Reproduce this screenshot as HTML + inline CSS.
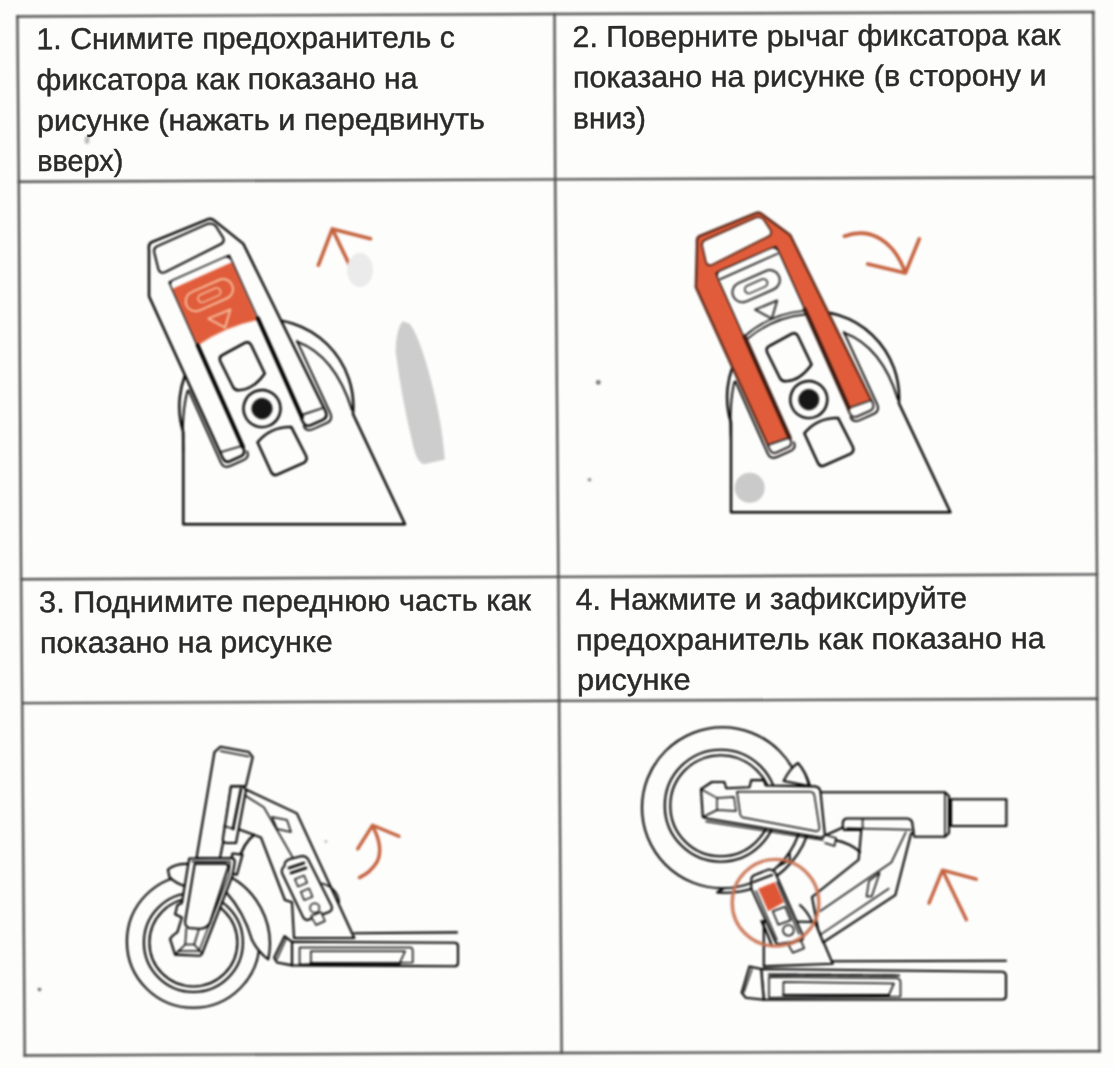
<!DOCTYPE html>
<html><head><meta charset="utf-8">
<style>
html,body{margin:0;padding:0;background:#fdfdfc;}
body{width:1114px;height:1068px;overflow:hidden;position:relative;}
svg{position:absolute;left:0;top:0;}
.bl{filter:blur(0.8px);}
.t{font-family:"Liberation Sans",sans-serif;font-size:30px;fill:#2a2a2a;stroke:#2a2a2a;stroke-width:0.45px;}
</style></head><body>
<svg class="bl" width="1114" height="1068" viewBox="0 0 1114 1068">
<g stroke="#505050" stroke-width="2.4" fill="none" stroke-linecap="square">
<polyline points="17.4,16.5 554.5,14 1093.3,12"/>
<polyline points="18.8,181.7 555.2,179.4 1094.2,177.2"/>
<polyline points="21.1,579.2 558.4,576.9 1097,574.4"/>
<polyline points="22.2,703.1 559.1,700.9 1097.3,698.7"/>
<polyline points="24.7,1055.5 561.65,1053 1099.5,1051.3"/>
<polyline points="17.4,16.5 18.8,181.7 21.1,579.2 22.2,703.1 24.7,1055.5"/>
<polyline points="554.5,14 555.2,179.4 558.4,576.9 559.1,700.9 561.65,1053"/>
<polyline points="1093.3,12 1094.2,177.2 1097,574.4 1097.3,698.7 1099.5,1051.3"/>
</g>
<g stroke="#000000" stroke-width="2.4" fill="#fdfdfc" stroke-linejoin="round" stroke-linecap="round">
<path d="M183.3,524.2 L183.3,432.4 A87,87 0 1,1 353.0,414.0 L405.0,524.2 Z"/>
<path d="M297,341.6 Q335,355.6 352.0,410.0" fill="none" stroke-width="2"/>
<path d="M183.3,450.6 Q181.3,413.6 187.5,391.1" fill="none" stroke-width="1.9"/>
<g transform="translate(262,408.6) rotate(-24)">
<path d="M-38.7,-191 Q-37,-197 -33,-197 L28,-195 Q31,-195 33,-191 L50,-158 L57,28 Q57,35 51,35 L38,35 Q32,35 32,28 L32,-153 L-33,-153 L-33,28 Q-33,35 -39,35 L-51,35 Q-56,35 -56,28 L-57.5,-148.6 Z"/>
<path d="M-55,23 L-33,26 M34,22 L55,24" fill="none" stroke-width="1.6"/>
<path d="M-30,-191 L24,-191 Q30,-191 32,-186 L34,-172.0 Q34,-167.0 29,-167.0 L-33,-164.0 Q-38,-164.0 -38,-169.0 L-35,-186 Q-34,-191 -30,-191 Z" stroke-width="2"/>
<path d="M-59.7,-46.7 L-59.5,32 Q-59.5,39.5 -52,39.5 L-38,39.5 Q-31,39.5 -31,33 M59.5,-47.5 L60.5,32 Q60.5,39.5 53,39.5 L38,39.5 Q31,39.5 31,33" fill="none" stroke-width="1.8"/>
<path d="M-33,-148 Q-33,-153 -28,-153 L26,-153 Q31,-153 32,-148 L33,24 M-33,26 L-33,-148" />
<path d="M-33,-148 Q-33,-153 -28,-153 L26,-153 Q31,-153 32,-148 L33,24 L-33,26 Z" stroke="none"/>
<path d="M-33,-146 L32,-146 L32,-83 Q0,-90 -33,-84 Z" fill="#e05c3b" stroke="none"/>
<path d="M-33,-84 Q0,-90 32,-83" fill="none" stroke="#e7a084" stroke-width="1.2"/>
<rect x="-27" y="-135" width="50" height="20" rx="10" fill="none" stroke="#f5bd9c" stroke-width="2"/>
<rect x="-14" y="-129" width="24" height="8" rx="4" fill="none" stroke="#f5bd9c" stroke-width="1.6"/>
<path d="M-12.5,-104 L11.4,-103.4 L-0.8,-89 Z" fill="none" stroke="#f5bd9c" stroke-width="2"/>
<path d="M-33,-84 L-33,27 M33,-84 L33,24" stroke-width="4" stroke="#000000" fill="none"/>
<path d="M-18.8,-60 Q-18.8,-65 -14,-65 L11,-67 Q15.7,-67 16,-62 L16.8,-31 Q0,-21 -13,-26 Q-17.7,-27 -17.7,-32 Z"/>
<circle cx="0" cy="0" r="18.5"/>
<circle cx="0" cy="0" r="10.5" fill="#161616" stroke="none"/>
<path d="M-17.8,29 Q0,20 19.3,28.6 L21,61 Q21,66 16,66.5 L-13,66.5 Q-17.4,66.5 -17.4,61 Z"/>
</g>
</g>
<path d="M318.4,265.2 L332.3,228.9 L370.5,238.7 M332.3,228.9 L358.8,284.5" fill="none" stroke="#c4623e" stroke-width="3.6" stroke-linecap="round" stroke-linejoin="round"/>
<path d="M402.6,321.3 Q396,330 395.6,351.8 Q402,400 412,440.8 Q416,462 423.7,464.2 L444.8,459.5 Q442,420 428.4,370.5 Q418,334 409.6,323.7 Z" fill="#cdcdcd" stroke="none"/>
<ellipse cx="360" cy="270" rx="13" ry="17" fill="#ebebeb" stroke="none"/>
<g stroke="#000000" stroke-width="2.4" fill="#fdfdfc" stroke-linejoin="round" stroke-linecap="round">
<path d="M731.0,512.3 L731.0,422.9 A86,86 0 1,1 898.9,403.2 L950.4,512.3 Z"/>
<path d="M843.8,332.6 Q881.8,346.6 897.9,399.2" fill="none" stroke-width="2"/>
<path d="M731.0,441.6 Q729.0,404.6 734.3,382.1" fill="none" stroke-width="1.9"/>
<g transform="translate(808.8,399.6) rotate(-24)">
<path d="M-38.7,-188 Q-37,-194 -33,-194 L28,-192 Q31,-192 33,-188 L50,-158 L57,28 Q57,35 51,35 L38,35 Q32,35 32,28 L32,-153 L-33,-153 L-33,28 Q-33,35 -39,35 L-51,35 Q-56,35 -56,28 L-57.5,-148.6 Z" fill="#e05c3b" stroke="#5a2a1a"/>
<path d="M-56,25 L-33,27 L-33,29 Q-33,35 -39,35 L-51,35 Q-56,35 -56,29 Z M32,24 L56.8,26 L57,29 Q57,35 51,35 L38,35 Q32,35 32,29 Z" fill="#fdfdfc" stroke="#2a2a2a" stroke-width="1.8"/>
<path d="M-30,-188 L24,-188 Q30,-188 32,-183 L34,-170.5 Q34,-165.5 29,-165.5 L-33,-162.5 Q-38,-162.5 -38,-167.5 L-35,-183 Q-34,-188 -30,-188 Z" fill="#fdfdfc" stroke="#5a2a1a" stroke-width="1.8"/>
<path d="M-59.7,-46.7 L-59.5,32 Q-59.5,39.5 -52,39.5 L-38,39.5 Q-31,39.5 -31,33 M59.5,-47.5 L60.5,32 Q60.5,39.5 53,39.5 L38,39.5 Q31,39.5 31,33" fill="none" stroke-width="1.8"/>
<path d="M-33,-148 Q-33,-153 -28,-153 L26,-153 Q31,-153 32,-148 L33,24 M-33,26 L-33,-148" />
<path d="M-33,-148 Q-33,-153 -28,-153 L26,-153 Q31,-153 32,-148 L33,24 L-33,26 Z" stroke="none"/>
<path d="M-33,-148 Q-33,-153 -28,-153 L26,-153 Q31,-153 32,-148 L32,-83 L-33,-84 Z" fill="#fdfdfc" stroke="none"/>
<path d="M-32,-146 L31,-146" stroke-width="1.6" fill="none"/>
<path d="M-33,-84 Q0,-94 32,-83 M-33,-80 Q0,-90 32,-79" fill="none" stroke-width="1.6"/>
<rect x="-27" y="-135" width="50" height="20" rx="10" fill="none" stroke="#2a2a2a" stroke-width="2"/>
<rect x="-14" y="-129" width="24" height="8" rx="4" fill="none" stroke="#2a2a2a" stroke-width="1.6"/>
<path d="M-12.5,-104 L11.4,-103.4 L-0.8,-89 Z" fill="none" stroke="#2a2a2a" stroke-width="2"/>
<path d="M-33,-84 L-33,27 M33,-84 L33,24" stroke-width="4" stroke="#3a1a10" fill="none"/>
<path d="M-18.8,-60 Q-18.8,-65 -14,-65 L11,-67 Q15.7,-67 16,-62 L16.8,-31 Q0,-21 -13,-26 Q-17.7,-27 -17.7,-32 Z"/>
<circle cx="0" cy="0" r="18.5"/>
<circle cx="0" cy="0" r="10.5" fill="#161616" stroke="none"/>
<path d="M-17.8,29 Q0,20 19.3,28.6 L21,61 Q21,66 16,66.5 L-13,66.5 Q-17.4,66.5 -17.4,61 Z"/>
</g>
</g>
<path d="M844.4,236.2 Q872,226 892.8,249.6 Q901,260 905.4,273 M867.7,264 L905.4,273 L919.3,238.9" fill="none" stroke="#c4623e" stroke-width="3.6" stroke-linecap="round" stroke-linejoin="round"/>
<circle cx="749.7" cy="487.8" r="15" fill="#bdbdbd" opacity="0.8"/>
<g stroke="#000" stroke-width="2.1" fill="#fdfdfc" stroke-linejoin="round" stroke-linecap="round">
<!-- tire -->
<circle cx="193.2" cy="941.5" r="66.3"/>
<!-- fender right -->
<path d="M222,873 A76.5,76.5 0 0,1 268.3,959.4 Q258,952 252,940 Q244,912 226,892 Z"/>
<!-- fender top-left wedge -->
<path d="M167.9,869.5 Q176,863 190,864 L188,887 Q176,884 169.4,877 Z"/>
<!-- rim -->
<circle cx="193.4" cy="942.5" r="49.5"/>
<circle cx="193.4" cy="942.5" r="44" fill="none"/>
<!-- deck -->
<path d="M292,941.8 L455,942.7 Q458,943 458,946 L458,963 Q458,966 455,966.3 L292,965.4 Z"/>
<path d="M284.5,936.1 L292,941.8 L292,965.4 L277,962.5 L274.1,957.8 Z"/>
<path d="M286,939 L277,959" fill="none" stroke-width="1.4"/>
<path d="M354.3,933.3 L457,932.4" fill="none"/>
<path d="M299.6,947.4 L410.8,947.4 Q412.7,948 412.7,951 L412.7,962.5 L299.6,964.4 Z" stroke-width="1.5"/>
<path d="M310.9,951.2 L405.1,951.2 L399.5,963.5 L310.9,963.5 Z" stroke-width="1.5"/>
<path d="M310.9,963.5 L399.5,963.5" stroke-width="2.6" fill="none"/>
<!-- frame down tube -->
<path d="M242.9,788 L296.9,813.4 L354.3,938 L294,938 L292,902.2 L284.9,900 L260.9,837.4 L232.4,826.9 Z"/>
<path d="M242.9,794 L263.9,807.4 L292.4,856.9" fill="none" stroke-width="1.5"/>
<path d="M272,817 L287,820 L291,832 L277,829 Z" stroke-width="1.5"/>
<!-- cable -->
<path d="M254,835 Q244,842 238,862" fill="none" stroke-width="2.4"/>
<!-- stem -->
<path d="M214.5,752 L220.4,746.7 L248.9,752 L252.7,757.2 L245.9,786 L231,786.4 L223,843 L220,858 L196.5,858 Z"/>
<path d="M220.4,751 L248.9,756.5" fill="none" stroke-width="1.4"/>
<!-- folding block -->
<path d="M231,786.4 L243,786.4 L246,790 L236,843 L226,843 Q222,842 223,838 Z"/>
<path d="M241,789 L233,829" fill="none" stroke-width="2.6"/>
<path d="M224,826 L234,829" fill="none" stroke-width="1.4"/>
<!-- stem lower connector -->
<path d="M232.4,853.5 L242.5,854.6 L236.9,874.8 L229,873 Z"/>
<!-- fork -->
<path d="M189.2,858.5 L232.4,858 Q235,859 234.7,862.5 L232.4,876 L202.1,953.5 Q201,955.7 199.8,955.7 L175.1,954.6 L170,938.9 L172.9,935.5 L177.4,932.1 L181.9,917.5 L175.1,914.2 L177.4,905.2 L181.9,903 Z"/>
<path d="M192,861.5 L230,861.5 L229,875 L199,951 L178,951" fill="none" stroke-width="1.3"/>
<path d="M194.8,863.6 L225,863.6 Q229,864 227.9,868 L209.9,923.1 Q206,929 198.7,928.8 L189,928 Q184.5,926 185.2,921 Z"/>
<path d="M186.3,928.8 L185.2,944.5 L194.2,944.5 L198.7,929.9 M175.1,954.6 L185.2,944.5 M194.2,944.5 L202.1,953.5" fill="none" stroke-width="1.5"/>
<!-- latch -->
<path d="M284.5,866 Q284,861 290,859 L302,856 Q306,856 308,859 L331.6,906 Q333,910 329,912 L309,919.5 Q305,921 303,917 L282,873 Q281,869 284.5,866 Z" stroke-width="2"/>
<path d="M289,868 L304,863 M291,873 L306,868" fill="none" stroke-width="2.6"/>
<rect x="296" y="877" width="10" height="8" transform="rotate(-22 301 881)" stroke-width="1.4"/>
<rect x="302" y="890" width="9" height="9" transform="rotate(-22 306 894)" stroke-width="1.4"/>
<circle cx="314.7" cy="907.9" r="4.7" stroke-width="1.4"/>
<path d="M311,916 L321,912 L325,921 L316,925 Z" stroke-width="1.4"/>
<path d="M322.2,883.4 Q338,888 339.2,902.2" fill="none" stroke-width="1.6"/>
<!-- arrow -->
<path d="M357.7,848.9 L372.5,825.3 L399,836.3 M373,827 Q384,848 377,862 Q370,873 359.4,877.6" fill="none" stroke="#c4623e" stroke-width="3.4"/>
</g>
<g stroke="#000" stroke-width="2.1" fill="#fdfdfc" stroke-linejoin="round" stroke-linecap="round">
<!-- fender (behind) -->
<path d="M783.6,781 Q790,768 798,763.1 Q806,772 810,786 A87,87 0 0,1 717.2,892.4 Q728,884 748,881 L790,860 Z"/>
<!-- tire -->
<circle cx="722.5" cy="807.8" r="80.5"/>
<!-- fender front tip top -->
<path d="M783.6,781 Q790,768 798,763.1 Q806,772 809,786 Z"/>
<!-- rim -->
<circle cx="720.8" cy="805.7" r="56"/>
<circle cx="720.8" cy="805.7" r="50.5" fill="none"/>
<!-- deck -->
<path d="M761.2,969 L1002,971.7 Q1006,972 1006,976 L1006,996 Q1006,999.5 1002,999.5 L763.8,999.8 Z"/>
<path d="M749.5,966.4 L761.2,969 L763.8,999.8 L745.6,997.7 L741.7,992.5 Z"/>
<path d="M752,969 L744,992" fill="none" stroke-width="1.3"/>
<path d="M831.5,961.2 L1006,960.7" fill="none"/>
<path d="M769,976.9 L897,978.2 Q900.5,979 900.5,982 L900.5,996.4 L769,997.7 Z" stroke-width="1.5"/>
<path d="M783.4,982.1 L894,983.4 L888.8,995.1 L783.4,995.1 Z" stroke-width="1.5"/>
<path d="M783.4,995.1 L888.8,995.1" fill="none" stroke-width="2.4"/>
<path d="M769,974.5 L899,975.5" fill="none" stroke-width="2.2" stroke-dasharray="2 1.3"/>
<!-- stem horizontal -->
<path d="M819.7,792.3 L945,792.3 L949,796 L949,833 L945,836.8 L914.5,836.8 L912,830 L846,826 L824,836 L818,792.3 Z"/>
<path d="M945,792.3 L945,836.8" fill="none" stroke-width="1.6"/>
<path d="M951,799.2 L1006.4,799.2 L1006.4,826 L951,826 Z"/>
<!-- bracket base near latch -->
<path d="M763.8,921 L763.8,966.4 L832.8,963.8 L815,922 Z"/>
<!-- frame arm -->
<path d="M846.8,818.5 L907.1,818.5 Q912.4,819 912.4,824.4 L913.7,832.3 L911.1,833.6 L895.3,895.2 L823.2,942.4 L818,929 L812,897 L858.6,859.8 L861.3,829.7 L844,830 Q842,826 842.9,821.8 Q844,818.5 846.8,818.5 Z"/>
<path d="M846.8,828.3 L911.1,829.7 M862.6,819.2 L862.6,828.5 M905.8,832.3 L891.4,862.4 L820.6,910.9 M888.8,888.6 L820.6,934.5" fill="none" stroke-width="1.5"/>
<path d="M869,880.8 L879.6,872.9 L871.7,896.5 L866.5,896.5 Z" stroke-width="1.5"/>
<path d="M835,840.1 Q850,843 860,852" fill="none" stroke-width="2.2"/>
<!-- fork (horizontal) -->
<path d="M701,789.1 L711.8,782 L724.4,782 L726.2,788.2 L749.5,787.3 L751.3,780.1 L763.9,780.1 L765.7,785.5 L815,786.4 Q820,787 820.5,792 L824.9,834.9 Q824,838 820,837.5 L708.2,818.7 L702.8,817 Z"/>
<path d="M737,791.8 L810,791.8 Q814,792 814.5,796 L819.5,828 Q819,832 815,831 L743,817.5 Q740.5,817 740,813 Z" stroke-width="1.5"/>
<path d="M701,789.1 L717,798 L734,797 L736,811 L717,810 L703,817 M717,798 L717,810" fill="none" stroke-width="1.4"/>
<path d="M706,821.5 L823,840" fill="none" stroke-width="1.4"/>
<path d="M824.9,834.9 L836,838 L834.5,846 L825,843" stroke-width="1.5"/>
<!-- latch -->
<path d="M761.5,921 Q766,930 772,946" fill="none" stroke-width="2.2"/>
<path d="M800,905 Q808,912 812,922" fill="none" stroke-width="2"/>
<path d="M751.3,880 Q751,876 756,874.5 L768.2,869.6 Q772,869 774.9,871.9 L803,935.9 Q804,939 801,940.5 L779,944 Q776,944 775,941 L751.3,888.7 Z" stroke-width="2"/>
<path d="M753.5,882 L772,875" fill="none" stroke-width="2.2"/>
<path d="M758.1,888.7 L774.9,882 L783.9,902.2 L768.2,911.2 Z" fill="#df5636" stroke="none"/>
<path d="M756,891 L777,940 M777,882 L799,934" fill="none" stroke-width="1.4"/>
<path d="M772.7,911.2 L785,906.7 L790.7,920.2 L778.3,924.7 Z" stroke-width="1.5"/>
<circle cx="788.4" cy="930.3" r="5.4" stroke-width="1.5"/>
<path d="M788.4,944.9 L800.8,940.4 L804.2,948.3 L792.9,952.8 Z" stroke-width="1.5"/>
<!-- orange circle -->
<circle cx="775.5" cy="902.7" r="43.3" fill="none" stroke="#c8714f" stroke-width="3.4" opacity="0.9"/>
<!-- arrow -->
<path d="M929,903.2 L942.5,870.2 L976.2,879.2 M942.5,870.2 L966.4,919.7" fill="none" stroke="#c4623e" stroke-width="3.4"/>
</g>
<g stroke="none"><circle cx="598.3" cy="382.4" r="2.4" fill="#777"/><circle cx="589.5" cy="479.7" r="1.8" fill="#888"/><circle cx="39.5" cy="989.5" r="1.8" fill="#666"/><circle cx="325.9" cy="841.5" r="1.3" fill="#aaa"/><ellipse cx="87" cy="140" rx="2.5" ry="4" fill="#bbb"/></g>
</svg>
<svg style="will-change:transform" width="1114" height="1068" viewBox="0 0 1114 1068">
<g class="t">
<text x="36.5" y="49.2" textLength="418.5" lengthAdjust="spacingAndGlyphs" transform="rotate(-0.24 36.5 49.2)">1. Снимите предохранитель с</text>
<text x="36.5" y="90" textLength="381" lengthAdjust="spacingAndGlyphs" transform="rotate(-0.24 36.5 90)">фиксатора как показано на</text>
<text x="37" y="130.9" textLength="448" lengthAdjust="spacingAndGlyphs" transform="rotate(-0.24 37 130.9)">рисунке (нажать и передвинуть</text>
<text x="37.2" y="171.1" textLength="86.2" lengthAdjust="spacingAndGlyphs" transform="rotate(-0.24 37.2 171.1)">вверх)</text>
<text x="572.6" y="47" textLength="488" lengthAdjust="spacingAndGlyphs" transform="rotate(-0.24 572.6 47)">2. Поверните рычаг фиксатора как</text>
<text x="573" y="87.4" textLength="473.5" lengthAdjust="spacingAndGlyphs" transform="rotate(-0.24 573 87.4)">показано на рисунке (в сторону и</text>
<text x="573" y="128.4" textLength="73" lengthAdjust="spacingAndGlyphs" transform="rotate(-0.24 573 128.4)">вниз)</text>
<text x="39" y="612.3" textLength="492" lengthAdjust="spacingAndGlyphs" transform="rotate(-0.24 39 612.3)">3. Поднимите переднюю часть как</text>
<text x="40" y="653" textLength="292.7" lengthAdjust="spacingAndGlyphs" transform="rotate(-0.24 40 653)">показано на рисунке</text>
<text x="575.7" y="609.8" textLength="391.3" lengthAdjust="spacingAndGlyphs" transform="rotate(-0.24 575.7 609.8)">4. Нажмите и зафиксируйте</text>
<text x="576" y="650.2" textLength="469" lengthAdjust="spacingAndGlyphs" transform="rotate(-0.24 576 650.2)">предохранитель как показано на</text>
<text x="577" y="690.1" textLength="113.6" lengthAdjust="spacingAndGlyphs" transform="rotate(-0.24 577 690.1)">рисунке</text>
</g>
</svg>
</body></html>
